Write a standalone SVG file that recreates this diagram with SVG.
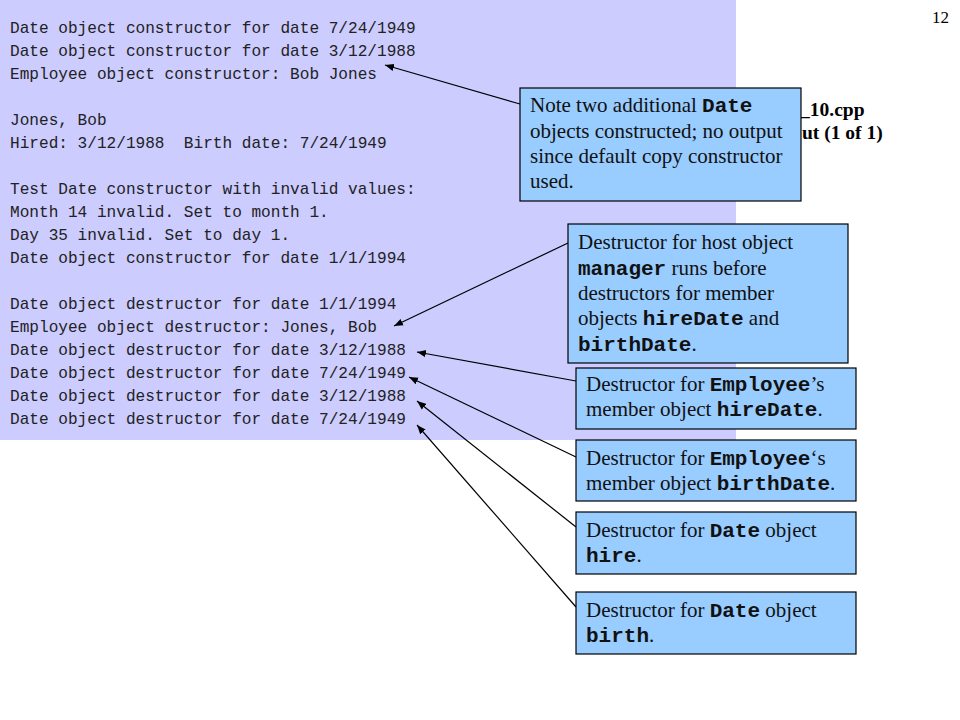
<svg xmlns="http://www.w3.org/2000/svg" width="960" height="720" viewBox="0 0 960 720">
<defs>
<marker id="ah" viewBox="0 0 10 10" refX="10" refY="5" markerWidth="9" markerHeight="9" markerUnits="userSpaceOnUse" orient="auto">
<path d="M0,1 L10,5 L0,9 Z" fill="#000"/>
</marker>
<style>
.out{font-family:"Liberation Mono","Courier New",monospace;font-size:16.1px;fill:#222}
.note{fill:#99ccff;stroke:#000;stroke-width:1.2}
.t{font-family:"Liberation Serif","Times New Roman",serif;font-size:21px;fill:#111}
.c{font-family:"Liberation Mono","Courier New",monospace;font-weight:bold;font-size:21px}
.title{font-family:"Liberation Serif","Times New Roman",serif;font-size:19.5px;font-weight:bold;fill:#000}
.conn{stroke:#000;stroke-width:1.2;fill:none;marker-end:url(#ah)}
</style>
</defs>
<rect width="960" height="720" fill="#fff"/>
<g id="titles">
<text class="title" x="800" y="116">_10.cpp</text>
<text class="title" x="802" y="139">ut (1 of 1)</text>
<text x="949" y="23" text-anchor="end" font-family="Liberation Serif, Times New Roman, serif" font-size="17">12</text>
</g>
<g id="output">
<rect x="0" y="0" width="736" height="440" fill="#ccccff"/>
<text class="out" x="10" y="33">Date object constructor for date 7/24/1949</text>
<text class="out" x="10" y="56">Date object constructor for date 3/12/1988</text>
<text class="out" x="10" y="79">Employee object constructor: Bob Jones</text>
<text class="out" x="10" y="125">Jones, Bob</text>
<text class="out" x="10" y="148" xml:space="preserve">Hired: 3/12/1988  Birth date: 7/24/1949</text>
<text class="out" x="10" y="194">Test Date constructor with invalid values:</text>
<text class="out" x="10" y="217">Month 14 invalid. Set to month 1.</text>
<text class="out" x="10" y="240">Day 35 invalid. Set to day 1.</text>
<text class="out" x="10" y="263">Date object constructor for date 1/1/1994</text>
<text class="out" x="10" y="309">Date object destructor for date 1/1/1994</text>
<text class="out" x="10" y="332">Employee object destructor: Jones, Bob</text>
<text class="out" x="10" y="355">Date object destructor for date 3/12/1988</text>
<text class="out" x="10" y="378">Date object destructor for date 7/24/1949</text>
<text class="out" x="10" y="401">Date object destructor for date 3/12/1988</text>
<text class="out" x="10" y="424">Date object destructor for date 7/24/1949</text>
</g>
<g id="connectors">
<line class="conn" x1="520" y1="104" x2="385" y2="65"/>
<line class="conn" x1="568" y1="243" x2="394" y2="326"/>
<line class="conn" x1="576" y1="381" x2="417" y2="352"/>
<line class="conn" x1="576" y1="457" x2="409" y2="377"/>
<line class="conn" x1="576" y1="527" x2="417" y2="401"/>
<line class="conn" x1="576" y1="607" x2="417" y2="425"/>
</g>
<g id="note-copy">
<rect class="note" x="520" y="88" width="281" height="113"/>
<text class="t" x="530" y="112">Note two additional <tspan class="c">Date</tspan></text>
<text class="t" x="530" y="138">objects constructed; no output</text>
<text class="t" x="530" y="163">since default copy constructor</text>
<text class="t" x="530" y="188">used.</text>
</g>
<g id="note-host">
<rect class="note" x="568" y="224" width="280" height="139"/>
<text class="t" x="578" y="249">Destructor for host object</text>
<text class="t" x="578" y="275"><tspan class="c">manager</tspan> runs before</text>
<text class="t" x="578" y="300">destructors for member</text>
<text class="t" x="578" y="325">objects <tspan class="c">hireDate</tspan> and</text>
<text class="t" x="578" y="351"><tspan class="c">birthDate</tspan>.</text>
</g>
<g id="note-hiredate">
<rect class="note" x="576" y="368" width="280" height="61"/>
<text class="t" x="586" y="391">Destructor for <tspan class="c">Employee</tspan>’s</text>
<text class="t" x="586" y="416">member object <tspan class="c">hireDate</tspan>.</text>
</g>
<g id="note-birthdate">
<rect class="note" x="576" y="440" width="280" height="61"/>
<text class="t" x="586" y="465">Destructor for <tspan class="c">Employee</tspan>‘s</text>
<text class="t" x="586" y="490">member object <tspan class="c">birthDate</tspan>.</text>
</g>
<g id="note-hire">
<rect class="note" x="576" y="512" width="280" height="62"/>
<text class="t" x="586" y="537">Destructor for <tspan class="c">Date</tspan> object</text>
<text class="t" x="586" y="562"><tspan class="c">hire</tspan>.</text>
</g>
<g id="note-birth">
<rect class="note" x="576" y="592" width="280" height="62"/>
<text class="t" x="586" y="617">Destructor for <tspan class="c">Date</tspan> object</text>
<text class="t" x="586" y="642"><tspan class="c">birth</tspan>.</text>
</g>
</svg>
